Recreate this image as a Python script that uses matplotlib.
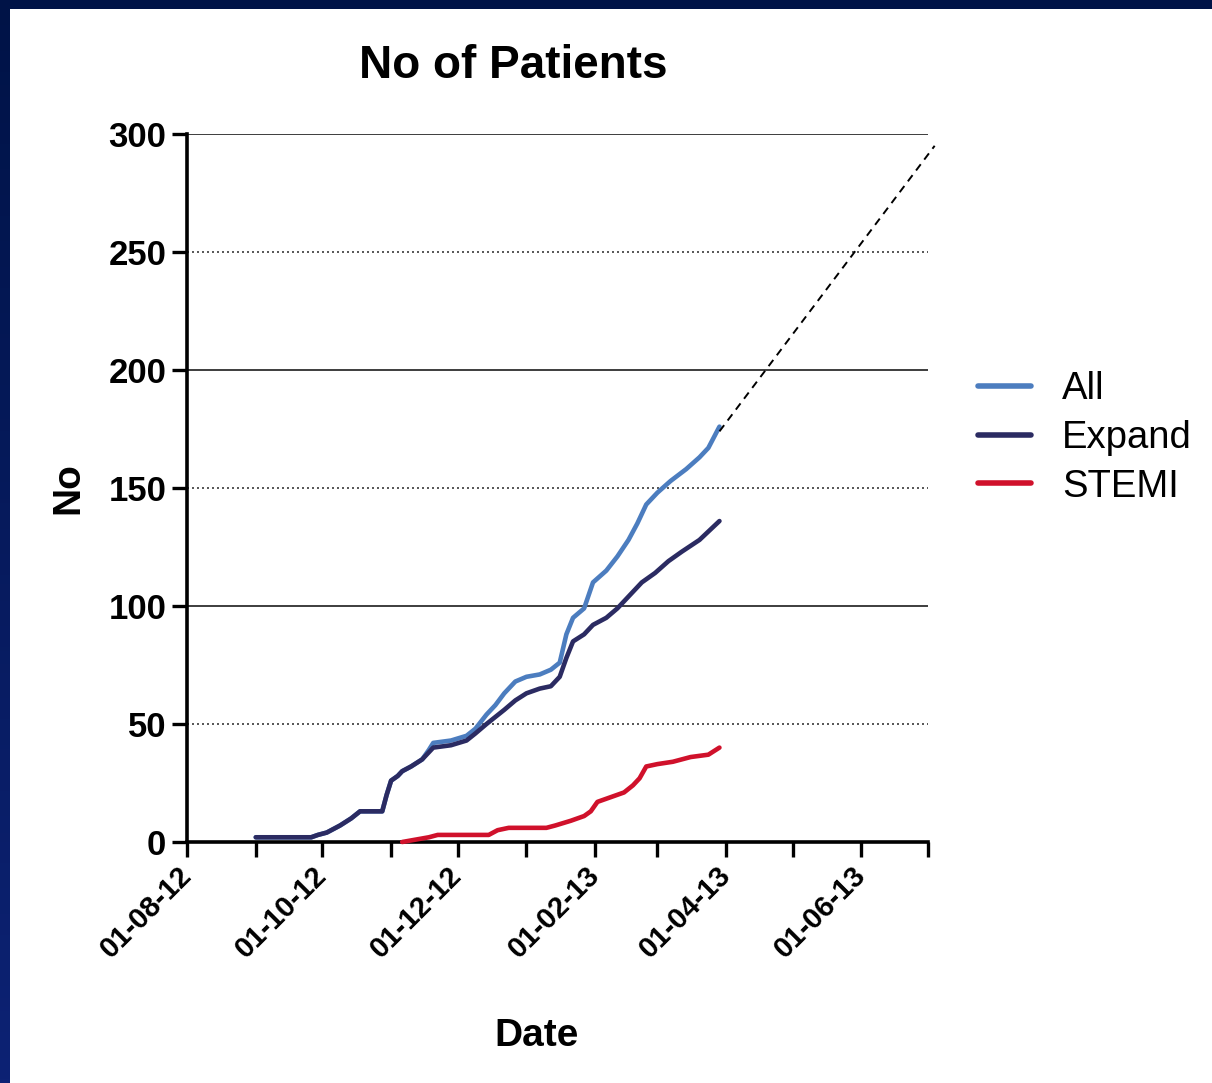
import numpy as np
import pandas as pd
import matplotlib
matplotlib.use("Agg")
import matplotlib.pyplot as plt
import matplotlib.dates as mdates
from matplotlib.ticker import MultipleLocator, FuncFormatter
from matplotlib.colors import LinearSegmentedColormap

plt.rcParams['font.family'] = ['Liberation Sans', 'DejaVu Sans']

# ---------------- data ----------------
series_names = ["All", "Expand", "STEMI"]

expand_dates = ["2012-09-01", "2012-09-26", "2012-09-29", "2012-10-03", "2012-10-09",
                "2012-10-14", "2012-10-18", "2012-10-28", "2012-10-30", "2012-11-01",
                "2012-11-04", "2012-11-06", "2012-11-10", "2012-11-15", "2012-11-18",
                "2012-11-20", "2012-11-28", "2012-12-05", "2012-12-09", "2012-12-14",
                "2012-12-18", "2012-12-22", "2012-12-27", "2013-01-01", "2013-01-07",
                "2013-01-12", "2013-01-16", "2013-01-19", "2013-01-22", "2013-01-27",
                "2013-01-31", "2013-02-06", "2013-02-11", "2013-02-16", "2013-02-22",
                "2013-02-28", "2013-03-06", "2013-03-12", "2013-03-20", "2013-03-29"]
expand_values = [2, 2, 3, 4, 7,
                 10, 13, 13, 20, 26,
                 28, 30, 32, 35, 38,
                 40, 41, 43, 46, 50,
                 53, 56, 60, 63, 65,
                 66, 70, 78, 85, 88,
                 92, 95, 99, 104, 110,
                 114, 119, 123, 128, 136]

all_dates = ["2012-09-01", "2012-09-26", "2012-09-29", "2012-10-03", "2012-10-09",
             "2012-10-14", "2012-10-18", "2012-10-28", "2012-10-30", "2012-11-01",
             "2012-11-04", "2012-11-06", "2012-11-10", "2012-11-15", "2012-11-18",
             "2012-11-20", "2012-11-28", "2012-12-05", "2012-12-09", "2012-12-14",
             "2012-12-18", "2012-12-22", "2012-12-27", "2013-01-01", "2013-01-07",
             "2013-01-12", "2013-01-16", "2013-01-19", "2013-01-22", "2013-01-27",
             "2013-01-31", "2013-02-06", "2013-02-11", "2013-02-16", "2013-02-20",
             "2013-02-24", "2013-03-01", "2013-03-07", "2013-03-14", "2013-03-20",
             "2013-03-24", "2013-03-29"]
all_values = [2, 2, 3, 4, 7,
              10, 13, 13, 20, 26,
              28, 30, 32, 35, 39,
              42, 43, 45, 48, 54,
              58, 63, 68, 70, 71,
              73, 76, 88, 95, 99,
              110, 115, 121, 128, 135,
              143, 148, 153, 158, 163,
              167, 176]

stemi_dates = ["2012-11-06", "2012-11-12", "2012-11-18", "2012-11-22", "2012-12-15",
               "2012-12-19", "2012-12-24", "2013-01-10", "2013-01-14", "2013-01-21",
               "2013-01-27", "2013-01-30", "2013-02-02", "2013-02-08", "2013-02-14",
               "2013-02-18", "2013-02-21", "2013-02-24", "2013-03-01", "2013-03-08",
               "2013-03-16", "2013-03-24", "2013-03-29"]
stemi_values = [0, 1, 2, 3, 3,
                5, 6, 6, 7, 9,
                11, 13, 17, 19, 21,
                24, 27, 32, 33, 34,
                36, 37, 40]

projection_dates = ["2013-03-29", "2013-07-04"]
projection_values = [174, 295]

x_range = ["2012-08-01", "2013-07-01"]
y_range = [0, 300]

colors = {"All": "#4c7dbf", "Expand": "#2b2b62", "STEMI": "#d0112b"}

# ---------------- figure ----------------
W, H = 1212, 1083
fig = plt.figure(figsize=(W / 100, H / 100), dpi=100)
fig.patch.set_facecolor("white")

# slide border (top and left)
grad = np.linspace(0, 1, 256).reshape(-1, 1)
cmap = LinearSegmentedColormap.from_list("band", ["#001347", "#0d2274"])
band_l = fig.add_axes([0, 0, 10 / W, 1])
band_l.imshow(grad, aspect="auto", cmap=cmap, origin="upper")
band_l.set_axis_off()
band_t = fig.add_axes([0, 1 - 9 / H, 1, 9 / H])
band_t.set_facecolor("#001347")
band_t.set_xticks([]); band_t.set_yticks([])
for s in band_t.spines.values():
    s.set_visible(False)

ax = fig.add_axes([187 / W, 1 - 842 / H, (928 - 187) / W, (842 - 134) / H])

data = {
    "All": (all_dates, all_values),
    "Expand": (expand_dates, expand_values),
    "STEMI": (stemi_dates, stemi_values),
}
for name in series_names:
    d, v = data[name]
    ax.plot(pd.to_datetime(d), v, color=colors[name], lw=3.3, label=name,
            solid_capstyle="round", solid_joinstyle="round", clip_on=False, zorder=4)

ax.plot(pd.to_datetime(projection_dates), projection_values, color="black",
        lw=1.4, linestyle=(0, (4, 3)), clip_on=False, zorder=5)

ax.set_xlim(pd.to_datetime(x_range))
ax.set_ylim(y_range)

# axes styling
for s in ["top", "right"]:
    ax.spines[s].set_visible(False)
for s in ["left", "bottom"]:
    ax.spines[s].set_linewidth(2.6)
    ax.spines[s].set_color("black")

ax.yaxis.set_major_locator(MultipleLocator(100))
ax.yaxis.set_minor_locator(MultipleLocator(50))
fmt = FuncFormatter(lambda v, p: f"{v:.0f}")
ax.yaxis.set_major_formatter(fmt)
ax.yaxis.set_minor_formatter(fmt)

ax.xaxis.set_major_locator(mdates.MonthLocator(bymonth=[8, 10, 12, 2, 4, 6]))
ax.xaxis.set_minor_locator(mdates.MonthLocator(bymonth=[9, 11, 1, 3, 5, 7]))
ax.xaxis.set_major_formatter(mdates.DateFormatter("%d-%m-%y"))

ax.tick_params(axis="both", which="both", direction="out", length=11, width=2.4,
               color="black")
ax.tick_params(axis="y", which="both", labelsize=25, pad=4)
ax.tick_params(axis="x", which="major", labelsize=21, pad=10)
for lab in ax.yaxis.get_ticklabels(which="both"):
    lab.set_fontweight("bold")
for lab in ax.get_xticklabels():
    lab.set_fontweight("bold")
    lab.set_rotation(45)
    lab.set_ha("right")
    lab.set_va("center")
    lab.set_rotation_mode("anchor")

ax.grid(axis="y", which="major", color="#2e2e2e", lw=1.3, linestyle="-", zorder=1)
ax.grid(axis="y", which="minor", color="#3a3a3a", lw=1.2, linestyle=(0, (1.2, 1.8)), zorder=1)
ax.set_axisbelow(True)

ax.set_title("No of Patients", fontsize=33, fontweight="bold",
             x=(513 - 187) / 741, y=(842 - 66) / 708, pad=0, va="center")
ax.set_xlabel("Date", fontsize=28, fontweight="bold")
ax.xaxis.set_label_coords((537 - 187) / 741, (842 - 1036) / 708)
ax.xaxis.label.set_va("center")
ax.set_ylabel("No", fontsize=28, fontweight="bold")
ax.yaxis.set_label_coords((68 - 187) / 741, 0.5)
ax.yaxis.label.set_va("center")

ax.legend(loc="center left", bbox_to_anchor=((978 - 187) / 741, (842 - 438) / 708),
          frameon=False, fontsize=27.5, handlelength=1.4, handletextpad=0.8,
          labelspacing=0.33, borderpad=0, borderaxespad=0)
leg = ax.get_legend()
for line in leg.get_lines():
    line.set_linewidth(4)

fig.savefig("out.png", dpi=100, facecolor="white")
